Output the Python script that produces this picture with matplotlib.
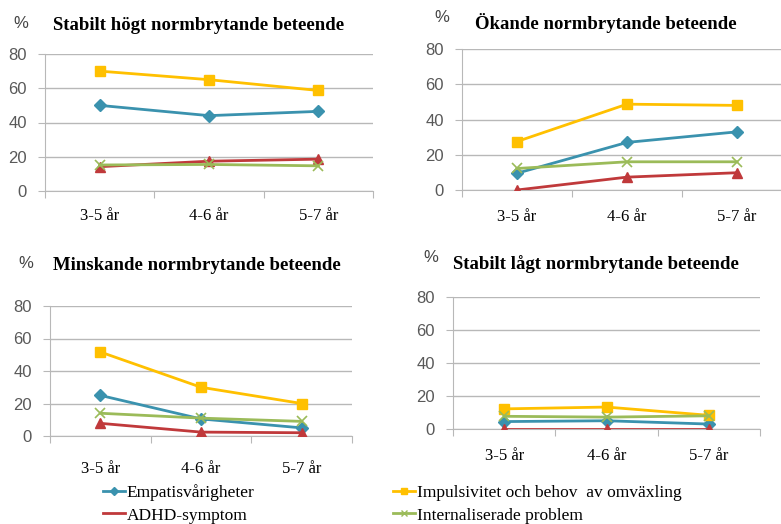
import matplotlib
matplotlib.use("Agg")
import matplotlib.pyplot as plt
from matplotlib.lines import Line2D

# categories and panels
ages = ["3-5 år", "4-6 år", "5-7 år"]
titles = ["Stabilt högt normbrytande beteende", "Ökande normbrytande beteende",
          "Minskande normbrytande beteende", "Stabilt lågt normbrytande beteende"]
series_names = ["Empatisvårigheter", "Impulsivitet och behov  av omväxling",
                "ADHD-symptom", "Internaliserade problem"]

# values per panel (percent)
empati = [[50, 44, 46.5], [9.5, 27, 33], [25, 10.5, 5], [4.5, 5, 3]]
impuls = [[70, 65, 58.7], [27.5, 48.7, 48], [51.7, 30, 20], [12.2, 13.3, 8.3]]
adhd = [[14.2, 17.4, 18.6], [0, 7.3, 9.8], [7.8, 2.4, 2], [0.3, 0.3, 0.3]]
internal = [[15.2, 15.5, 14.7], [12.2, 16, 16], [14, 11, 9], [7.7, 7.2, 8]]

W, H = 781, 524
fig = plt.figure(figsize=(W / 100, H / 100), dpi=100)

# axes boxes in pixels: left, right, top(80), bottom(0)
boxes = [(45, 373, 54, 191), (462, 792, 49, 190), (50, 352, 306, 436), (453, 760, 297, 429)]
title_pos = [(53, 25), (475, 23), (53, 266), (453, 264)]
pct_pos = [(13, 23), (434, 18), (18, 264), (423, 258)]
xlab_y = [212, 213, 463, 452]

colors = {"emp": "#3A92AE", "imp": "#FFC000", "adhd": "#C0393B", "int": "#9BBB59"}
grid_c = "#B8B8B8"
serif = ["Liberation Serif", "DejaVu Serif"]
sans = ["Liberation Sans", "DejaVu Sans"]


def px(l, r, t, b):
    return [l / W, 1 - b / H, (r - l) / W, (b - t) / H]


for i in range(4):
    l, r, t, b = boxes[i]
    ax = fig.add_axes(px(l, r, t, b))
    x = [0.5, 1.5, 2.5]
    ax.plot(x, empati[i], color=colors["emp"], lw=2, marker="D", ms=6.5, zorder=3)
    ax.plot(x, impuls[i], color=colors["imp"], lw=2, marker="s", ms=7.5, zorder=3)
    ax.plot(x, adhd[i], color=colors["adhd"], lw=2, marker="^", ms=7.5, zorder=3)
    ax.plot(x, internal[i], color=colors["int"], lw=2, marker="x", ms=6.5, mew=1.2, zorder=3)

    ax.set_xlim(0, 3)
    ax.set_ylim(0, 80)
    ax.set_yticks([0, 20, 40, 60, 80])
    ax.yaxis.grid(True, color=grid_c, lw=1)
    ax.set_axisbelow(True)
    for s in ["top", "right"]:
        ax.spines[s].set_visible(False)
    for s in ["left", "bottom"]:
        ax.spines[s].set_color(grid_c)
    ax.tick_params(axis="y", length=5, color=grid_c, labelsize=12, labelcolor="#595959", pad=8)
    ax.set_yticklabels(["0", "20", "40", "60", "80"], family=sans)
    ax.set_xticks([0, 1, 2, 3])
    ax.set_xticklabels([])
    ax.tick_params(axis="x", length=5, color=grid_c)
    ax.set_xticks(x, minor=True)
    ax.set_xticklabels(ages, minor=True, family=serif, fontsize=12)
    ax.tick_params(axis="x", which="minor", length=0, pad=(xlab_y[i] - b) - 9)

    fig.text(title_pos[i][0] / W, 1 - title_pos[i][1] / H, titles[i], family=serif,
             fontweight="bold", fontsize=13.5, ha="left", va="center")
    fig.text(pct_pos[i][0] / W, 1 - pct_pos[i][1] / H, "%", family=sans,
             fontsize=12, color="#444444", ha="left", va="center")

handles = [
    Line2D([], [], color=colors["emp"], lw=2, marker="D", ms=4),
    Line2D([], [], color=colors["adhd"], lw=2),
    Line2D([], [], color=colors["imp"], lw=2, marker="s", ms=5),
    Line2D([], [], color=colors["int"], lw=2, marker="x", ms=5),
]
labels = [series_names[0], series_names[2], series_names[1], series_names[3]]
fig.legend(handles, labels, loc="center left", bbox_to_anchor=(103 / W, 1 - 504 / H),
           ncol=2, frameon=False, prop={"family": serif, "size": 12.5},
           handlelength=1.25, handletextpad=0.1, columnspacing=8.0, labelspacing=0.35,
           borderpad=0, borderaxespad=0)

fig.savefig("out.png", dpi=100)
